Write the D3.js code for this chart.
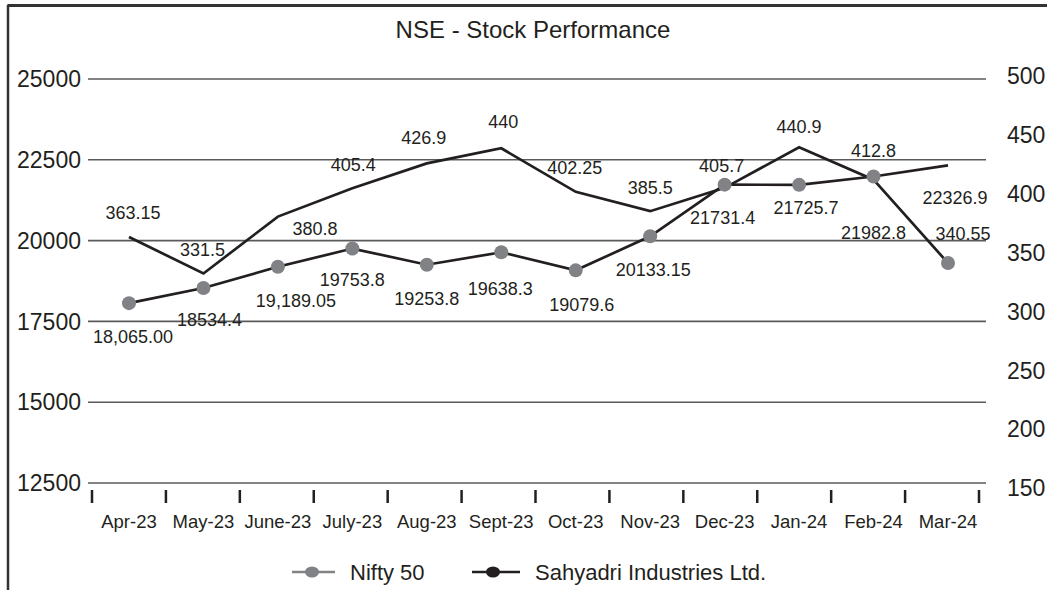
<!DOCTYPE html>
<html>
<head>
  <meta charset="utf-8">
  <title>NSE - Stock Performance</title>
  <script src="https://d3js.org/d3.v7.min.js"></script>
  <style>
    body { margin: 0; background: #fff; }
    text { font-family: "Liberation Sans", Arial, Helvetica, sans-serif; fill: #231f20; }
  </style>
</head>
<body>
<script>
// data
var months = ["Apr-23", "May-23", "June-23", "July-23", "Aug-23", "Sept-23",
              "Oct-23", "Nov-23", "Dec-23", "Jan-24", "Feb-24", "Mar-24"];
var nifty = [18065.00, 18534.4, 19189.05, 19753.8, 19253.8, 19638.3,
             19079.6, 20133.15, 21731.4, 21725.7, 21982.8, 22326.9];
var niftyText = ["18,065.00", "18534.4", "19,189.05", "19753.8", "19253.8", "19638.3",
                 "19079.6", "20133.15", "21731.4", "21725.7", "21982.8", "22326.9"];
var sahyadri = [363.15, 331.5, 380.8, 405.4, 426.9, 440,
                402.25, 385.5, 405.7, 440.9, 412.8, 340.55];
var leftTicks = [12500, 15000, 17500, 20000, 22500, 25000];
var rightTicks = [150, 200, 250, 300, 350, 400, 450, 500];

// label nudges (dx, dy) as they sit in the original
var niftyNudge = [[4,33],[6,32],[18,34],[0,31],[0,34],[-1,36],[6,34],[3,33],[-2,33],[7,23],[0,56],[7,32]];
var sahyNudge = [[4,-24],[-1,-24],[37,12],[1,-24],[-3,-26],[2,-27],[-1,-24],[0,-24],[-3,-22],[0,-21],[0,-29],[15,-30]];

var width = 1047, height = 590;
var ink = "#231f20", grey = "#808285";

var svg = d3.select("body").append("svg")
    .attr("width", width)
    .attr("height", height);

// outer frame (only top and left edges show)
svg.append("line").attr("x1", 7.5).attr("x2", width).attr("y1", 5.5).attr("y2", 5.5)
    .attr("stroke", "#333").attr("stroke-width", 3);
svg.append("line").attr("x1", 8).attr("x2", 8).attr("y1", 5).attr("y2", height)
    .attr("stroke", "#333").attr("stroke-width", 2.5);

var x = d3.scalePoint().domain(months).range([129, 948]);
var xBand = d3.scaleBand().domain(months).range([92, 979]);
var yL = d3.scaleLinear().domain([12500, 25000]).range([483, 79]);
var yR = d3.scaleLinear().domain([150, 500]).range([483, 79]);
var yRLabel = yR.copy().range([488, 76]);

svg.append("text")
    .attr("x", 533).attr("y", 38)
    .attr("text-anchor", "middle")
    .style("font-size", "24px")
    .text("NSE - Stock Performance");

// gridlines
svg.selectAll(".grid")
  .data(leftTicks)
  .enter().append("line")
    .attr("x1", 88).attr("x2", 986)
    .attr("y1", function(d) { return yL(d); })
    .attr("y2", function(d) { return yL(d); })
    .attr("stroke", "#5a5a5a")
    .attr("stroke-width", 1.6);

svg.selectAll(".ltick")
  .data(leftTicks)
  .enter().append("text")
    .attr("x", 81)
    .attr("y", function(d) { return yL(d); })
    .attr("dy", "0.36em")
    .attr("text-anchor", "end")
    .style("font-size", "23px")
    .text(function(d) { return d; });

svg.selectAll(".rtick")
  .data(rightTicks)
  .enter().append("text")
    .attr("x", 1007)
    .attr("y", function(d) { return yRLabel(d); })
    .attr("dy", "0.36em")
    .style("font-size", "23px")
    .text(function(d) { return d; });

// category tick marks sit on band edges
var edges = months.map(function(m) { return xBand(m); }).concat([xBand.range()[1]]);
svg.selectAll(".xtick")
  .data(edges)
  .enter().append("line")
    .attr("x1", function(d) { return d; })
    .attr("x2", function(d) { return d; })
    .attr("y1", 490).attr("y2", 503)
    .attr("stroke", ink)
    .attr("stroke-width", 2.5);

svg.selectAll(".xlabel")
  .data(months)
  .enter().append("text")
    .attr("x", function(d) { return x(d); })
    .attr("y", 528)
    .attr("text-anchor", "middle")
    .style("font-size", "18.5px")
    .text(function(d) { return d; });

// lines
var lineL = d3.line()
    .x(function(d, i) { return x(months[i]); })
    .y(function(d) { return yL(d); });
var lineR = d3.line()
    .x(function(d, i) { return x(months[i]); })
    .y(function(d) { return yR(d); });

svg.append("path").attr("d", lineR(sahyadri))
    .attr("fill", "none").attr("stroke", ink).attr("stroke-width", 2.7);
svg.append("path").attr("d", lineL(nifty))
    .attr("fill", "none").attr("stroke", ink).attr("stroke-width", 2.7);

// markers: grey dots on Nifty (except last point) and on the last Sahyadri point
svg.selectAll(".ndot")
  .data(nifty.slice(0, 11))
  .enter().append("circle")
    .attr("cx", function(d, i) { return x(months[i]); })
    .attr("cy", function(d) { return yL(d); })
    .attr("r", 7)
    .attr("fill", grey);
svg.append("circle")
    .attr("cx", x(months[11]))
    .attr("cy", yR(sahyadri[11]))
    .attr("r", 7)
    .attr("fill", grey);

// data labels
svg.selectAll(".nlabel")
  .data(nifty)
  .enter().append("text")
    .attr("x", function(d, i) { return x(months[i]) + niftyNudge[i][0]; })
    .attr("y", function(d, i) { return yL(d) + niftyNudge[i][1]; })
    .attr("dy", "0.36em")
    .attr("text-anchor", "middle")
    .style("font-size", "18px")
    .text(function(d, i) { return niftyText[i]; });

svg.selectAll(".slabel")
  .data(sahyadri)
  .enter().append("text")
    .attr("x", function(d, i) { return x(months[i]) + sahyNudge[i][0]; })
    .attr("y", function(d, i) { return yR(d) + sahyNudge[i][1]; })
    .attr("dy", "0.36em")
    .attr("text-anchor", "middle")
    .style("font-size", "18px")
    .text(function(d) { return d; });

// legend
var legend = svg.append("g").attr("transform", "translate(0,572)");
legend.append("line").attr("x1", 292).attr("x2", 335).attr("y1", 0).attr("y2", 0)
    .attr("stroke", grey).attr("stroke-width", 2.7);
legend.append("ellipse").attr("cx", 312).attr("cy", 0).attr("rx", 7).attr("ry", 5.5)
    .attr("fill", grey);
legend.append("text").attr("x", 350).attr("y", 0).attr("dy", "0.36em")
    .style("font-size", "22px").text("Nifty 50");
legend.append("line").attr("x1", 472).attr("x2", 520).attr("y1", 0).attr("y2", 0)
    .attr("stroke", ink).attr("stroke-width", 2.7);
legend.append("ellipse").attr("cx", 493).attr("cy", 0).attr("rx", 7).attr("ry", 5.5)
    .attr("fill", ink);
legend.append("text").attr("x", 535).attr("y", 0).attr("dy", "0.36em")
    .style("font-size", "22px").text("Sahyadri Industries Ltd.");
</script>
</body>
</html>
